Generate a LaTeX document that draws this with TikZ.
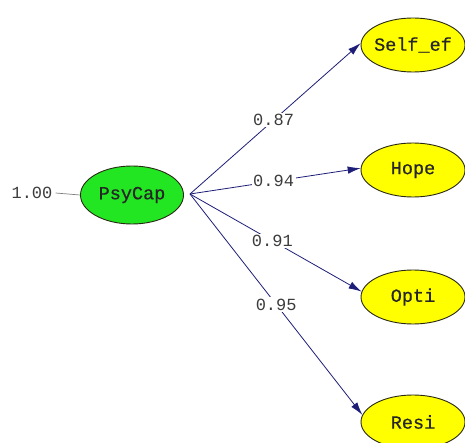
\documentclass[tikz,border=0pt]{standalone}
\usepackage{fontspec}
\newfontfamily\cour{Liberation Mono}
\newfontfamily\courb[FakeBold=0.6]{Liberation Mono}
\usetikzlibrary{shapes.geometric,arrows.meta}
\definecolor{grn}{RGB}{34,230,34}
\definecolor{yel}{RGB}{255,255,0}
\definecolor{navy}{RGB}{30,30,120}
\definecolor{txt}{RGB}{60,60,60}
\definecolor{edge}{RGB}{40,40,20}
\tikzset{
  lat/.style={ellipse, draw=edge, line width=0.9pt, minimum width=104pt, minimum height=54pt, inner xsep=-20pt, inner ysep=0pt, font=\courb\fontsize{18.5}{18.5}\selectfont, text=black!85},
  obs/.style={lat, fill=yel},
  arr/.style={draw=navy, line width=0.8pt, -{Latex[length=13pt,width=7.5pt]}},
  lab/.style={fill=white, inner sep=1.5pt, font=\cour\fontsize{17}{17}\selectfont, text=txt},
}
\begin{document}
\begin{tikzpicture}[x=1pt,y=-1pt]
\useasboundingbox (0,0) rectangle (465,443);
\fill[white] (0,0) rectangle (465,443);
\node[lat, fill=grn, minimum height=58pt, minimum width=103pt] (psy) at (132,195) {PsyCap};
\node[obs] (sel) at (413,45) {Self\_ef};
\node[obs] (hope) at (413,170) {Hope};
\node[obs] (opti) at (413,297) {Opti};
\node[obs] (resi) at (413,422) {Resi};
\node[lab, inner sep=0pt] (one) at (32,193) {1.00};
\coordinate (src) at (190,194);
\draw[gray, line width=0.7pt] (one.east) ++(3,0) -- (psy.west);
\draw[arr] (src) -- node[lab, pos=0.49] {0.87} (sel.178);
\draw[arr] (src) -- node[lab, pos=0.49] {0.94} (hope.178);
\draw[arr] (src) -- node[lab, pos=0.48] {0.91} (opti.174);
\draw[arr] (src) -- node[lab, pos=0.5] {0.95} (resi.172);
\end{tikzpicture}
\end{document}
